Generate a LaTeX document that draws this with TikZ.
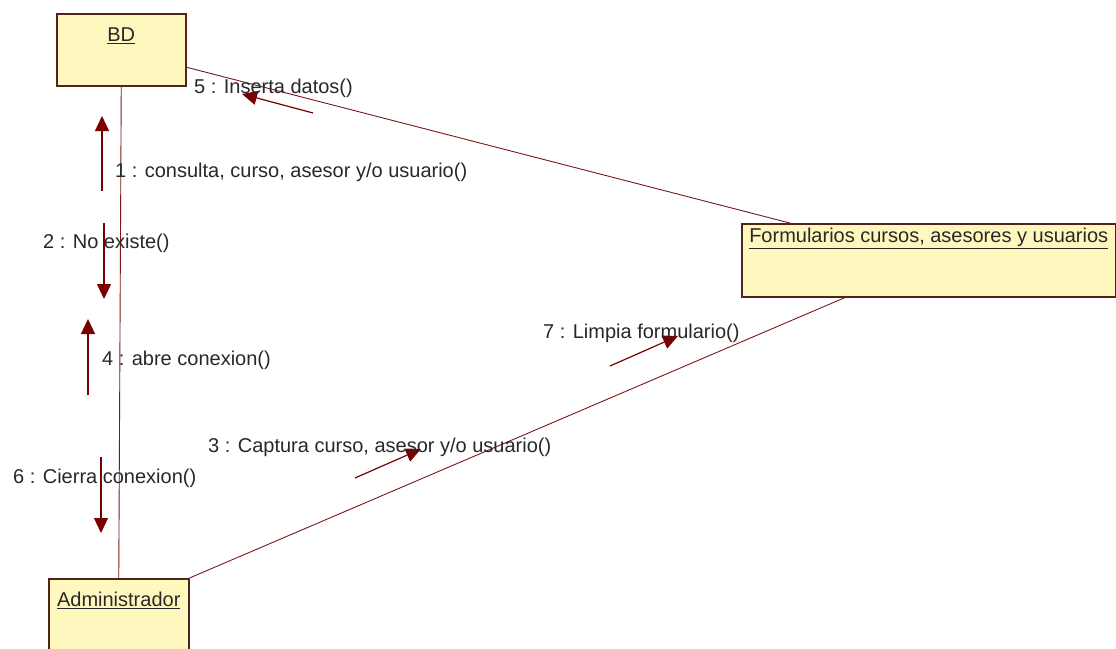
\documentclass[tikz,border=0pt]{standalone}
\usepackage{fontspec}
\setmainfont{Liberation Sans}
\usetikzlibrary{arrows.meta,positioning}

\definecolor{objfill}{RGB}{255,248,190}
\definecolor{objline}{RGB}{80,36,24}
\definecolor{linkred}{RGB}{122,24,24}
\definecolor{msgred}{RGB}{120,0,0}
\definecolor{txtgray}{RGB}{40,40,40}

\tikzset{
  objbox/.style={draw=objline, fill=objfill, line width=1.5pt, anchor=north west, inner sep=0pt},
  objname/.style={anchor=north, inner sep=0pt, text=txtgray},
  link/.style={draw=linkred, line width=0.9pt},
  msg/.style={draw=msgred, line width=1.2pt, -{Triangle[length=15pt,width=14pt]}},
  msglabel/.style={anchor=base west, inner sep=0pt, text=txtgray}
}

\begin{document}
\begin{tikzpicture}[x=1pt, y=-1pt, font=\fontsize{20}{24}\selectfont]
  \useasboundingbox (0,0) rectangle (1116,648);
  \clip (0,0) rectangle (1116,648);

  % objects
  \node[objbox, minimum width=129pt, minimum height=72pt]  (bd)    at (56,13)   {};
  \node[objbox, minimum width=374pt, minimum height=73pt]  (form)  at (741,223) {};
  \node[objbox, minimum width=140pt, minimum height=90pt]  (admin) at (48,578)  {};

  \node[objname, below=15pt of bd.north]   (bdname)    {\underline{BD}};
  \node[objname, below=5pt of form.north]  (formname)  {\underline{Formularios cursos, asesores y usuarios}};
  \node[objname, below=14pt of admin.north] (adminname) {\underline{Administrador}};

  % links
  \draw[link] (bd.south) -- (admin.north);
  \draw[link] (bd.-15) -- (form.165.5);
  \draw[link] (admin.north east) -- (form.-156.8);

  % messages
  \coordinate (m1a) at (102,191);  \coordinate (m1b) at (102,116);
  \coordinate (m2a) at (104,223);  \coordinate (m2b) at (104,299);
  \coordinate (m3a) at (355,478);  \coordinate (m3b) at (421,449);
  \coordinate (m4a) at (88,395);   \coordinate (m4b) at (88,319);
  \coordinate (m5a) at (313,113);  \coordinate (m5b) at (242,94);
  \coordinate (m6a) at (101,457);  \coordinate (m6b) at (101,533);
  \coordinate (m7a) at (610,366);  \coordinate (m7b) at (678,336);

  \foreach \m in {1,...,7}
    \draw[msg] (m\m a) -- (m\m b);

  \node[msglabel] (l1) at (115,177) {1 : consulta, curso, asesor y/o usuario()};
  \node[msglabel] (l2) at (43,248)  {2 : No existe()};
  \node[msglabel] (l3) at (208,452) {3 : Captura curso, asesor y/o usuario()};
  \node[msglabel] (l4) at (102,365) {4 : abre conexion()};
  \node[msglabel] (l5) at (194,93)  {5 : Inserta datos()};
  \node[msglabel] (l6) at (13,483)  {6 : Cierra conexion()};
  \node[msglabel] (l7) at (543,338) {7 : Limpia formulario()};
\end{tikzpicture}
\end{document}
